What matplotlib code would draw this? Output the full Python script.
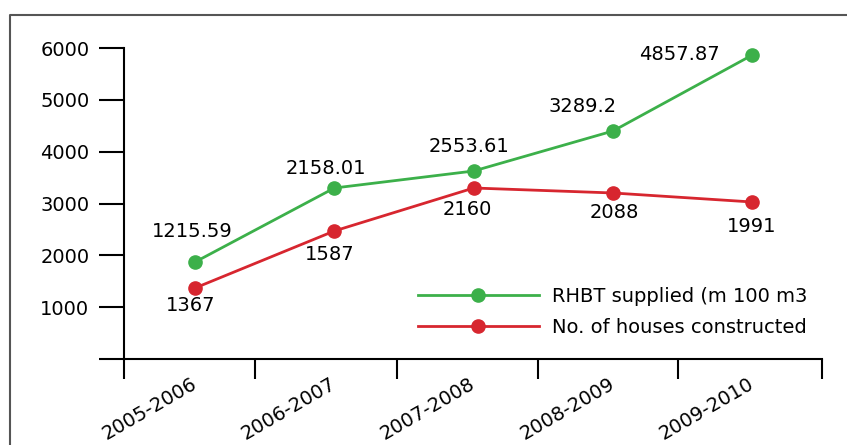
import matplotlib
matplotlib.use('Agg')
import matplotlib.pyplot as plt
from matplotlib.lines import Line2D

plt.rcParams['font.family'] = ['DejaVu Sans']

# Chart data (plotted positions as drawn in the source, and the printed labels)
periods = ['2005-2006', '2006-2007', '2007-2008', '2008-2009', '2009-2010']
rhbt_plotted = [1871, 3299, 3627, 4399, 5865]
rhbt_labels = ['1215.59', '2158.01', '2553.61', '3289.2', '4857.87']
houses_plotted = [1370, 2470, 3299, 3203, 3029]
houses_labels = ['1367', '1587', '2160', '2088', '1991']
yticks = [0, 1000, 2000, 3000, 4000, 5000, 6000]
ytick_labels = ['', '1000', '2000', '3000', '4000', '5000', '6000']

# label offsets in pixels (hand placed to look like the original)
rhbt_offsets = [(-3, 31), (-9, 20), (-5, 25), (-30, 24), (-73, 0)]
houses_offsets = [(-4, -18), (-5, -24), (-6, -21), (1, -20), (-1, -25)]

green = '#3cb04a'
red = '#d7262f'
fs = 14

fig = plt.figure(figsize=(8.47, 4.45), dpi=100)
W, H = 847, 445
ax = fig.add_axes([124 / W, (445 - 359) / H, (822 - 124) / W, (359 - 48) / H])

x = list(range(len(periods)))
ax.plot(x, rhbt_plotted, color=green, lw=2, marker='o', ms=9.5,
        clip_on=False, label='RHBT supplied (m 100 m3')
ax.plot(x, houses_plotted, color=red, lw=2, marker='o', ms=9.5,
        clip_on=False, label='No. of houses constructed')

for xi, yi, txt, off in zip(x, rhbt_plotted, rhbt_labels, rhbt_offsets):
    ax.annotate(txt, (xi, yi), xytext=off, textcoords='offset pixels',
                ha='center', va='center', fontsize=fs)
for xi, yi, txt, off in zip(x, houses_plotted, houses_labels, houses_offsets):
    ax.annotate(txt, (xi, yi), xytext=off, textcoords='offset pixels',
                ha='center', va='center', fontsize=fs)

ax.set_xlim(-0.51, 4.5)
ax.set_ylim(0, 6000)

for s in ['top', 'right']:
    ax.spines[s].set_visible(False)
for s in ['left', 'bottom']:
    ax.spines[s].set_linewidth(1.5)

ax.set_yticks(yticks)
ax.set_yticklabels(ytick_labels, fontsize=fs)
ax.tick_params(axis='y', length=18, width=1.5, pad=7)

ax.set_xticks(x)
ax.set_xticklabels(periods, fontsize=fs, rotation=30, ha='right',
                   va='center', rotation_mode='anchor')
ax.tick_params(axis='x', which='major', length=0, pad=17)
ax.set_xticks([-0.51, 0.43, 1.45, 2.46, 3.47, 4.5], minor=True)
ax.tick_params(axis='x', which='minor', length=14.5, width=1.5)

ax.legend(loc='upper left', bbox_to_anchor=(418 / W, 1 - 287 / H),
          bbox_transform=fig.transFigure, frameon=False, fontsize=fs,
          handlelength=6.2, handletextpad=0.7, labelspacing=0.62,
          borderpad=0, borderaxespad=0)

# outer frame (only the left and top edges show)
fig.add_artist(Line2D([10 / W, 10 / W, 1], [0, 1 - 15 / H, 1 - 15 / H],
                      transform=fig.transFigure, color='#555555', lw=1.5))

plt.savefig('out.png', dpi=100)
